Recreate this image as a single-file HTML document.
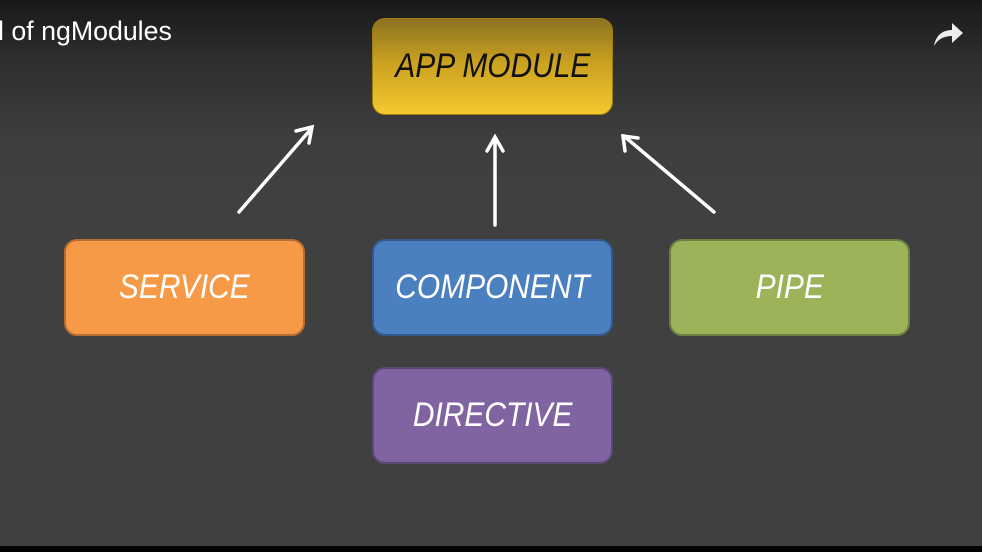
<!DOCTYPE html>
<html><head><style>
body{margin:0;width:982px;height:552px;overflow:hidden;background:#000;font-family:"Liberation Sans",sans-serif}
.bg{position:absolute;left:0;top:0;width:982px;height:546px;background:linear-gradient(#191919 0px,#2e2e2e 60px,#3e3e3e 140px,#404040 200px,#404040)}
.box{position:absolute;width:241px;height:97px;border-radius:13px;box-sizing:border-box;display:flex;align-items:center;justify-content:center;font-style:italic;font-size:34px;color:#fff;letter-spacing:0px}
.box span{display:inline-block;transform:scaleX(0.88)}
.t{position:absolute;left:-2px;top:16px;color:#fff;font-size:27px;transform:scaleX(0.99);transform-origin:left}
</style></head><body>
<div class="bg"></div>
<div class="t">l of ngModules</div>
<svg style="position:absolute;left:930px;top:20px" width="36" height="30" viewBox="0 0 36 30"><path d="M4 26 C6 14 14 10 22 10 L22 3 L33 13 L22 23 L22 16 C14 16 8 19 4 26Z" fill="#eee"/></svg>
<div class="box" style="left:372px;top:18px;background:linear-gradient(#8d7222,#c9a020 45%,#f5c830);border:1px solid #a07e10;color:#111"><span>APP MODULE</span></div>
<div class="box" style="left:64px;top:239px;background:#f79a47;border:2px solid #b86e30"><span>SERVICE</span></div>
<div class="box" style="left:372px;top:239px;background:#4a7fc0;border:2px solid #35598a"><span>COMPONENT</span></div>
<div class="box" style="left:669px;top:239px;background:#9bb45a;border:2px solid #6e7f42"><span>PIPE</span></div>
<div class="box" style="left:372px;top:367px;background:#8064a2;border:2px solid #5a4875"><span>DIRECTIVE</span></div>
<svg style="position:absolute;left:0;top:0" width="982" height="552">
<g stroke="#fff" stroke-width="3.5" fill="none" stroke-linecap="round">
<line x1="239" y1="212" x2="311" y2="129"/>
<polyline points="296,131 312,127 309,143"/>
<line x1="495" y1="225" x2="495" y2="138"/>
<polyline points="487,151 495,137 503,151"/>
<line x1="714" y1="212" x2="624" y2="136"/>
<polyline points="625,151 623,136 638,138"/>
</g></svg>
</body></html>
